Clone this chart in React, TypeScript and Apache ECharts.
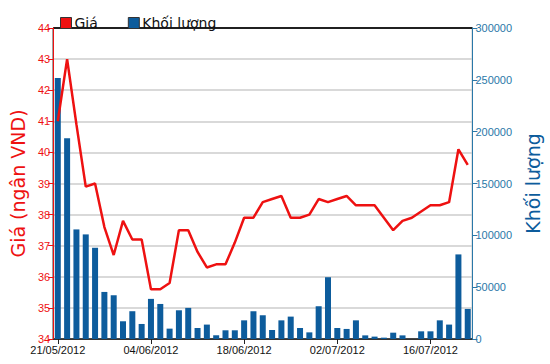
import React, { useEffect, useRef } from "react";
import * as echarts from "echarts";

const dates = [
  "21/05/2012", "22/05/2012", "23/05/2012", "24/05/2012", "25/05/2012",
  "28/05/2012", "29/05/2012", "30/05/2012", "31/05/2012", "01/06/2012",
  "04/06/2012", "05/06/2012", "06/06/2012", "07/06/2012", "08/06/2012",
  "11/06/2012", "12/06/2012", "13/06/2012", "14/06/2012", "15/06/2012",
  "18/06/2012", "19/06/2012", "20/06/2012", "21/06/2012", "22/06/2012",
  "25/06/2012", "26/06/2012", "27/06/2012", "28/06/2012", "29/06/2012",
  "02/07/2012", "03/07/2012", "04/07/2012", "05/07/2012", "06/07/2012",
  "09/07/2012", "10/07/2012", "11/07/2012", "12/07/2012", "13/07/2012",
  "16/07/2012", "17/07/2012", "18/07/2012", "19/07/2012", "20/07/2012",
];

const price = [
  41.0, 43.0, 40.9, 38.9, 39.0, 37.6, 36.7, 37.8, 37.2, 37.2,
  35.6, 35.6, 35.8, 37.5, 37.5, 36.8, 36.3, 36.4, 36.4, 37.1,
  37.9, 37.9, 38.4, 38.5, 38.6, 37.9, 37.9, 38.0, 38.5, 38.4,
  38.5, 38.6, 38.3, 38.3, 38.3, 37.9, 37.5, 37.8, 37.9, 38.1,
  38.3, 38.3, 38.4, 40.1, 39.6,
];

const volume = [
  251700, 193700, 105700, 100900, 88000, 45400, 42200, 17100, 26800, 14500,
  38700, 33800, 10000, 27700, 30000, 10600, 13900, 3600, 8400, 8400,
  18000, 26800, 22900, 8700, 18000, 21600, 10600, 6400, 31600, 59600,
  10600, 9700, 18000, 3500, 2300, 1300, 6100, 3500, 0, 7400,
  7400, 18000, 13900, 81600, 29000,
];

const priceTicks = { min: 34, max: 44, interval: 1 };
const volumeTicks = { min: 0, max: 300000, interval: 50000 };

const RED = "#ee1111";
const BLUE = "#0d5c9c";
const AXIS_BLUE = "#2a78a8";

export default function App() {
  const ref = useRef<HTMLDivElement>(null);
  useEffect(() => {
    if (!ref.current) return;
    const chart = echarts.init(ref.current, null, { renderer: "svg" });
    const gridColors = ["#333333", "#cccccc", "#cccccc", "#cccccc", "#cccccc", "#cccccc",
      "#cccccc", "#cccccc", "#cccccc", "#cccccc", "#000000"];
    chart.setOption({
      animation: false,
      backgroundColor: "#ffffff",
      legend: {
        data: ["Giá", "Khối lượng"],
        left: 55,
        top: 11,
        itemWidth: 11,
        itemHeight: 11,
        itemGap: 30,
        icon: "rect",
        itemStyle: { borderColor: "#333", borderWidth: 1 },
        textStyle: { fontFamily: "DejaVu Sans", fontSize: 14, color: "#111", padding: [0, 0, 0, -2] },
      },
      grid: {
        left: 48,
        right: 71,
        top: 28,
        bottom: 25,
        show: true,
        borderColor: "#000",
        borderWidth: 1,
      },
      xAxis: {
        type: "category",
        data: dates,
        boundaryGap: true,
        axisLine: { show: true, lineStyle: { color: "#333", width: 1 } },
        axisTick: { show: true, interval: 9, alignWithLabel: true, length: 5, lineStyle: { color: "#222" } },
        axisLabel: {
          interval: 9,
          fontFamily: "Liberation Sans",
          fontSize: 11,
          color: "#111",
          margin: 5,
        },
        splitLine: { show: false },
      },
      yAxis: [
        {
          type: "value",
          position: "left",
          min: priceTicks.min,
          max: priceTicks.max,
          interval: priceTicks.interval,
          name: "Giá (ngân VND)",
          nameLocation: "middle",
          nameRotate: 90,
          nameGap: 20,
          nameTextStyle: { fontFamily: "DejaVu Sans", fontSize: 19, color: RED },
          axisLine: { show: true, lineStyle: { color: RED, width: 1 } },
          axisTick: { show: true, length: 5, lineStyle: { color: RED } },
          axisLabel: { fontFamily: "Liberation Sans", fontSize: 11, color: RED, margin: 3 },
          splitLine: { show: true, lineStyle: { color: gridColors, width: 1.5 } },
        },
        {
          type: "value",
          position: "right",
          min: volumeTicks.min,
          max: volumeTicks.max,
          interval: volumeTicks.interval,
          name: "Khối lượng",
          nameLocation: "middle",
          nameRotate: 90,
          nameGap: 47,
          nameTextStyle: { fontFamily: "DejaVu Sans", fontSize: 19, color: BLUE },
          axisLine: { show: true, lineStyle: { color: AXIS_BLUE, width: 1 } },
          axisTick: { show: true, length: 5, lineStyle: { color: AXIS_BLUE } },
          axisLabel: {
            fontFamily: "Liberation Sans",
            fontSize: 11,
            color: AXIS_BLUE,
            margin: 3,
            formatter: (v: number) => String(v),
          },
          splitLine: { show: false },
        },
      ],
      series: [
        {
          name: "Khối lượng",
          type: "bar",
          yAxisIndex: 1,
          data: volume,
          barWidth: 6,
          itemStyle: { color: BLUE },
          z: 2,
        },
        {
          name: "Giá",
          type: "line",
          yAxisIndex: 0,
          data: price,
          symbol: "none",
          lineStyle: { color: RED, width: 2.5 },
          itemStyle: { color: RED },
          z: 3,
        },
      ],
    });
    return () => chart.dispose();
  }, []);
  return <div ref={ref} style={{ width: 550, height: 364, position: "absolute", left: 0, top: 0 }} />;
}
